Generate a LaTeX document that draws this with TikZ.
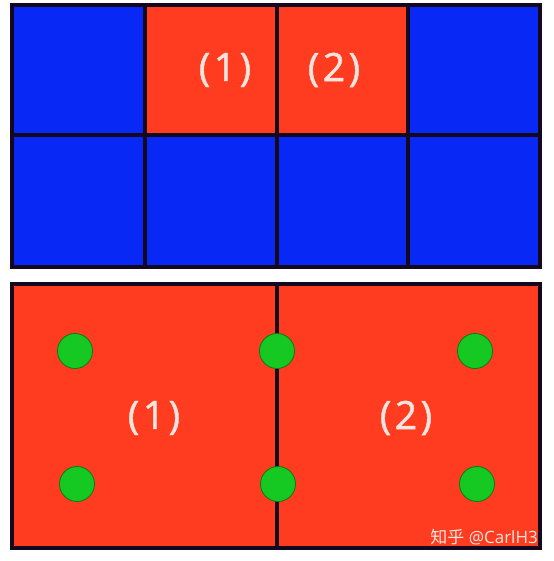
\documentclass[tikz,border=0pt]{standalone}
\usepackage{fontspec}
\setmainfont{Open Sans}
\newfontfamily\lblfont[LetterSpace=9,FakeBold=1.2]{Open Sans}
\newfontfamily\cjk{Noto Sans CJK SC}
\definecolor{cblue}{RGB}{8,40,245}
\definecolor{cred}{RGB}{255,60,32}
\definecolor{cgreen}{RGB}{22,200,34}
\definecolor{ctext}{RGB}{252,228,222}
\definecolor{cline}{RGB}{20,8,30}
\begin{document}
\begin{tikzpicture}[x=1pt,y=-1pt,
  cell/.style={draw=cline,line width=3.5pt},
  lbl/.style={text=ctext,font=\lblfont\fontsize{39}{40}\selectfont,inner sep=0pt},
  dot/.style={circle,fill=cgreen,draw=cgreen!60!black,line width=0.8pt,minimum size=35pt,inner sep=0pt}]
\useasboundingbox[fill=white] (0,0) rectangle (553,561);
% top grid
\fill[cblue] (12,5) rectangle (540,267);
\fill[cred] (145,5) rectangle (408,135);
\draw[cell] (12,5) rectangle (540,267);
\draw[cell] (145,5) -- (145,267);
\draw[cell] (277,5) -- (277,267);
\draw[cell] (408,5) -- (408,267);
\draw[cell] (12,135) -- (540,135);
\node[lbl] (t1) at (225,70) {(1)};
\node[lbl] (t2) at (334,70) {(2)};
% bottom panel
\fill[cred] (12,284) rectangle (540,548);
\draw[cell] (12,284) rectangle (540,548);
\draw[cell] (277,284) -- (277,548);
\node[lbl] (b1) at (154,418) {(1)};
\node[lbl] (b2) at (406,418) {(2)};
\node[dot] (d1) at (75,351) {};
\node[dot] (d2) at (277,351) {};
\node[dot] (d3) at (475,351) {};
\node[dot] (d4) at (77,484) {};
\node[dot] (d5) at (278,484) {};
\node[dot] (d6) at (477,484) {};
\node[text=ctext,anchor=east,inner sep=0pt,font=\fontsize{17}{18}\selectfont] (wm) at (538,537) {{\cjk 知乎} @CarlH3};
\end{tikzpicture}
\end{document}
